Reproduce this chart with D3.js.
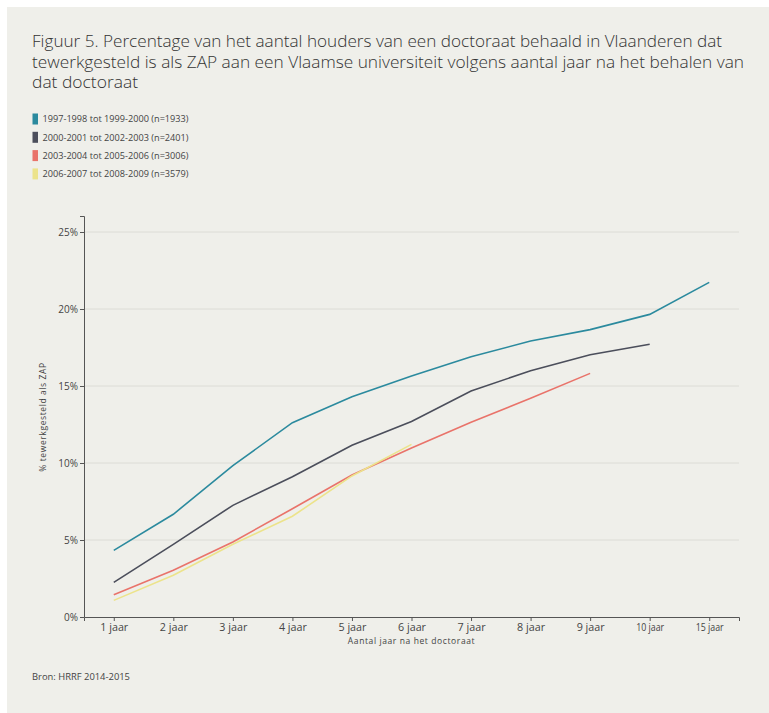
<!DOCTYPE html>
<html><head><meta charset="utf-8">
<script src="https://cdn.jsdelivr.net/npm/d3@7"></script>
<style>
html,body{margin:0;padding:0;background:#fff;}
svg{display:block;}
text{font-family:"Open Sans",sans-serif;}
</style></head>
<body>
<svg id="chart" width="769" height="713"></svg>
<script>
const categories = ["1 jaar","2 jaar","3 jaar","4 jaar","5 jaar","6 jaar","7 jaar","8 jaar","9 jaar","10 jaar","15 jaar"];
const seriesNames = ["1997-1998 tot 1999-2000 (n=1933)","2000-2001 tot 2002-2003 (n=2401)","2003-2004 tot 2005-2006 (n=3006)","2006-2007 tot 2008-2009 (n=3579)"];
const series1 = [4.33, 6.67, 9.83, 12.62, 14.3, 15.65, 16.9, 17.92, 18.66, 19.65, 21.73];
const series2 = [2.25, 4.72, 7.25, 9.11, 11.15, 12.7, 14.68, 15.99, 17.03, 17.71];
const series3 = [1.45, 3.03, 4.87, 7.03, 9.22, 10.97, 12.65, 14.2, 15.82];
const series4 = [1.08, 2.71, 4.72, 6.54, 9.16, 11.21];
const colors = ["#2b8a9e","#4b4e5b","#e9736a","#ece38b"];
const yTicks = [0,5,10,15,20,25];
const titleLines = ["Figuur 5. Percentage van het aantal houders van een doctoraat behaald in Vlaanderen dat",
 "tewerkgesteld is als ZAP aan een Vlaamse universiteit volgens aantal jaar na het behalen van",
 "dat doctoraat"];

const svg = d3.select("#chart");
svg.append("rect").attr("x",7).attr("y",7).attr("width",762).attr("height",706).attr("fill","#efefea");

// title
const titleW = [690, 712, 106];
titleLines.forEach((t,i)=>{
  svg.append("text").attr("x",32).attr("y",47+i*20.5)
    .attr("font-size",16.5).attr("fill","#333").attr("font-weight",300)
    .attr("textLength",titleW[i]).attr("lengthAdjust","spacingAndGlyphs").text(t);
});

// legend
seriesNames.forEach((n,i)=>{
  const y = 113.5 + i*18.3;
  svg.append("rect").attr("x",32.5).attr("y",y).attr("width",5.5).attr("height",11).attr("fill",colors[i]);
  svg.append("text").attr("x",42.5).attr("y",y+8.8).attr("font-size",9.3).attr("fill","#444")
    .attr("textLength", 146).attr("lengthAdjust","spacingAndGlyphs").text(n);
});

const x = d3.scalePoint().domain(categories).range([84,739]).padding(0.5);
const y = d3.scaleLinear().domain([0,25]).range([617,232]);

// gridlines
svg.append("g").selectAll("line").data(yTicks.filter(d=>d>0)).join("line")
  .attr("x1",84).attr("x2",739).attr("y1",d=>y(d)).attr("y2",d=>y(d))
  .attr("stroke","#dcdcd6").attr("stroke-width",1);

// y axis
const yAxis = svg.append("g").attr("transform","translate(84,0)")
  .call(d3.axisLeft(y).tickValues(yTicks).tickFormat(d=>d+"%").tickSize(4).tickSizeOuter(4).tickPadding(2));
yAxis.select(".domain").attr("d","M-4,216.5H0.5V617.5");
yAxis.selectAll("path,line").attr("stroke","#555");
yAxis.selectAll("text").attr("font-size",10).attr("fill","#444").attr("font-family","Open Sans, sans-serif");

// x axis
const xAxis = svg.append("g").attr("transform","translate(0,617)")
  .call(d3.axisBottom(x).tickSize(4).tickSizeOuter(4).tickPadding(3));
xAxis.selectAll("path,line").attr("stroke","#555");
xAxis.selectAll("text").attr("font-size",10).attr("fill","#444").attr("font-family","Open Sans, sans-serif")
  .attr("textLength",28).attr("lengthAdjust","spacingAndGlyphs");

// axis titles
svg.append("text").attr("x",x("6 jaar")).attr("y",644).attr("text-anchor","middle")
  .attr("font-size",8.5).attr("fill","#444").attr("letter-spacing",0.6).text("Aantal jaar na het doctoraat");
svg.append("text").attr("transform","translate(46,417) rotate(-90)").attr("text-anchor","middle")
  .attr("font-size",8.5).attr("fill","#444").attr("letter-spacing",0.6).text("% tewerkgesteld als ZAP");

// lines
const line = d3.line().x((d,i)=>x(categories[i])).y(d=>y(d));
[series1,series2,series3,series4].forEach((s,i)=>{
  svg.append("path").datum(s).attr("d",line).attr("fill","none")
    .attr("stroke",colors[i]).attr("stroke-width",1.6);
});

svg.append("text").attr("x",32).attr("y",680).attr("font-size",9.8).attr("fill","#444")
  .attr("textLength",98).attr("lengthAdjust","spacingAndGlyphs").text("Bron: HRRF 2014-2015");
</script>
</body></html>
